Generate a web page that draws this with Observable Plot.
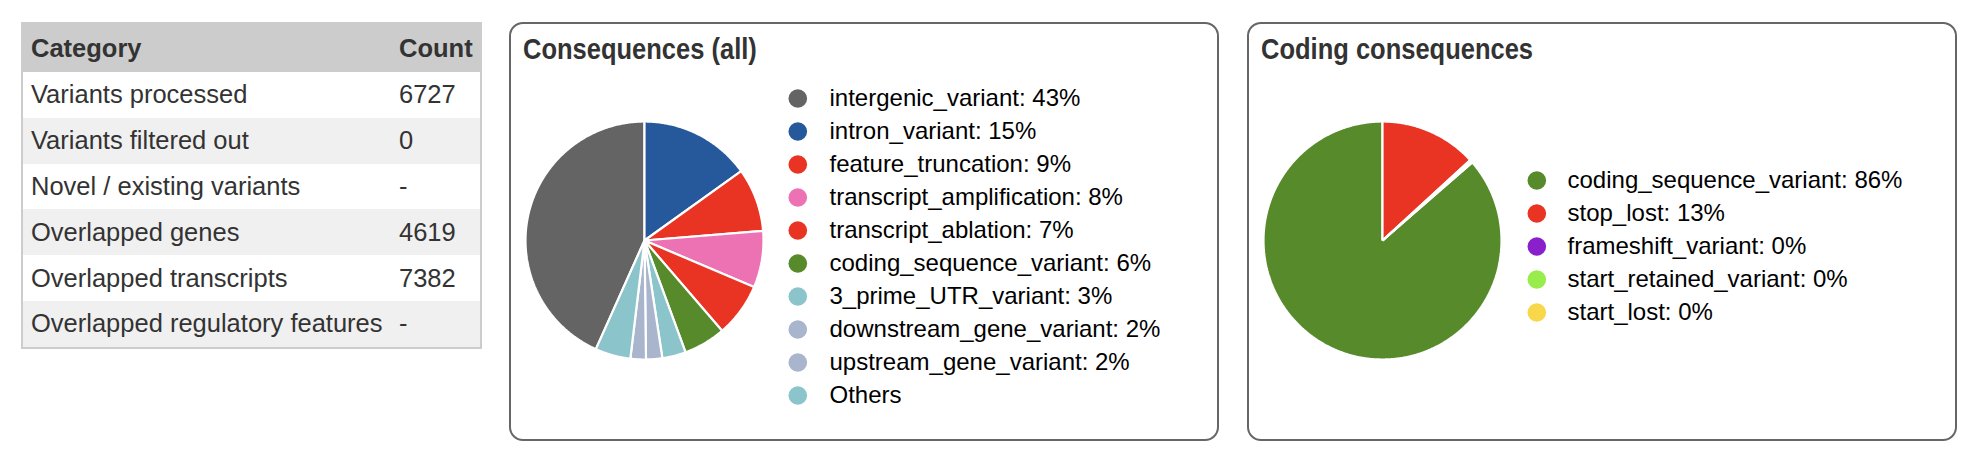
<!DOCTYPE html>
<html><head><meta charset="utf-8">
<script src="https://cdn.jsdelivr.net/npm/d3@7"></script>
<script src="https://cdn.jsdelivr.net/npm/@observablehq/plot@0.6"></script>
<style>
html,body{margin:0;padding:0;background:#fff;width:1976px;height:458px;overflow:hidden;font-family:"Liberation Sans",Arial,Helvetica,sans-serif;}
.abs{position:absolute;}
.tbl{left:21px;top:22px;width:461px;border:2px solid #cccccc;box-sizing:border-box;}
.tbl table{border-collapse:collapse;width:100%;table-layout:fixed;font-size:25.5px;color:#333;}
.tbl th{background:#cccccc;text-align:left;font-weight:bold;height:48px;padding:0 0 0 8px;}
.tbl td{height:45.8px;padding:0 0 0 8px;white-space:nowrap;}
.tbl tr:nth-child(odd) td{background:#f0f0f0;}
.panel{border:2px solid #666;border-radius:14px;box-sizing:border-box;top:22px;height:419px;width:710px;}
.title{font-size:30px;line-height:30px;font-weight:bold;color:#333;transform:scaleX(0.85);transform-origin:left top;white-space:nowrap;}
</style></head><body>
<script>
// ---- data ----
const tableCategories = ["Variants processed","Variants filtered out","Novel / existing variants","Overlapped genes","Overlapped transcripts","Overlapped regulatory features"];
const tableCounts = ["6727","0","-","4619","7382","-"];

const allNames = ["intergenic_variant","intron_variant","feature_truncation","transcript_amplification","transcript_ablation","coding_sequence_variant","3_prime_UTR_variant","downstream_gene_variant","upstream_gene_variant","Others"];
const allValues = [43.3,15.1,8.6,7.7,7.3,5.7,3.2,2.2,2.1,4.8];
const allColors = ["#646464","#25599b","#e93323","#ec72b4","#e93323","#568a2a","#8cc4cb","#a8b5cc","#a8b5cc","#8cc4cb"];

const codingNames = ["coding_sequence_variant","stop_lost","frameshift_variant","start_retained_variant","start_lost"];
const codingValues = [86.4,13.2,0.2,0.1,0.1];
const codingColors = ["#568a2a","#e93323","#8a1fcc","#98ec4b","#f8d74b"];

const titles = ["Consequences (all)","Coding consequences"];

// ---- table ----
const wrap = document.createElement("div");
wrap.className = "abs tbl";
let html = '<table><colgroup><col style="width:368px"><col></colgroup><tr><th>Category</th><th>Count</th></tr>';
tableCategories.forEach((c,i)=>{ html += `<tr><td>${c}</td><td>${tableCounts[i]}</td></tr>`; });
html += '</table>';
wrap.innerHTML = html;
document.body.appendChild(wrap);

function place(el, left, top){ const d=document.createElement("div"); d.className="abs"; d.style.left=left+"px"; d.style.top=top+"px"; d.appendChild(el); document.body.appendChild(d); return d; }

// clockwise; the first slice ends at 12 o'clock
function pieRows(names, values){
  const start = -2*Math.PI*values[0]/d3.sum(values);
  const arcs = d3.pie().sort(null).startAngle(start).endAngle(start+2*Math.PI)(values);
  const rows = [];
  arcs.forEach((a,i)=>{
    const name = names[i];
    rows.push({name, x:0, y:0});
    const n = Math.max(2, Math.ceil(Math.abs(a.endAngle-a.startAngle)/(Math.PI/360)));
    for(let k=0;k<=n;k++){ const t=a.startAngle+(a.endAngle-a.startAngle)*k/n; rows.push({name, x:Math.sin(t), y:Math.cos(t)}); }
    rows.push({name, x:0, y:0});
  });
  return rows;
}

function pie(names, values, colors){
  return Plot.plot({
    width:242, height:242, margin:2,
    style:{background:"transparent", overflow:"visible"},
    x:{domain:[-1,1], axis:null}, y:{domain:[-1,1], axis:null},
    color:{type:"ordinal", domain:names, range:colors},
    marks:[Plot.line(pieRows(names,values), {x:"x", y:"y", z:"name", fill:"name", stroke:"white", strokeWidth:2.2, strokeLinejoin:"miter", strokeLinecap:"butt"})]
  });
}

function legend(names, values, colors, dx){
  const data = names.map((n,i)=>({name:n, label: n==="Others" ? n : `${n}: ${Math.round(values[i])}%`}));
  return Plot.plot({
    width:420, height:(names.length-1)*33.75+34, marginTop:17, marginBottom:17, marginLeft:0, marginRight:0,
    style:{background:"transparent", overflow:"visible", fontFamily:'"Liberation Sans",Arial,sans-serif'},
    y:{type:"point", domain:names, padding:0, axis:null},
    color:{type:"ordinal", domain:names, range:colors},
    marks:[
      Plot.dot(data, {y:"name", fill:"name", r:9.3, frameAnchor:"left", dx:9.3, stroke:null}),
      Plot.text(data, {y:"name", text:"label", frameAnchor:"left", textAnchor:"start", dx, fontSize:24, fill:"black"})
    ]
  });
}

// ---- panels ----
[509,1247].forEach((left,i)=>{
  const p=document.createElement("div"); p.className="abs panel"; p.style.left=left+"px"; document.body.appendChild(p);
  const t=document.createElement("div"); t.className="abs title"; t.textContent=titles[i];
  t.style.left=(left+14)+"px"; t.style.top="34px"; document.body.appendChild(t);
});

place(pie(allNames, allValues, allColors), 523, 119);
place(legend(allNames, allValues, allColors, 41), 788, 78);
place(pie(codingNames, codingValues, codingColors), 1260.7, 119);
place(legend(codingNames, codingValues, codingColors, 40), 1526.7, 161.3);
</script>
</body></html>
